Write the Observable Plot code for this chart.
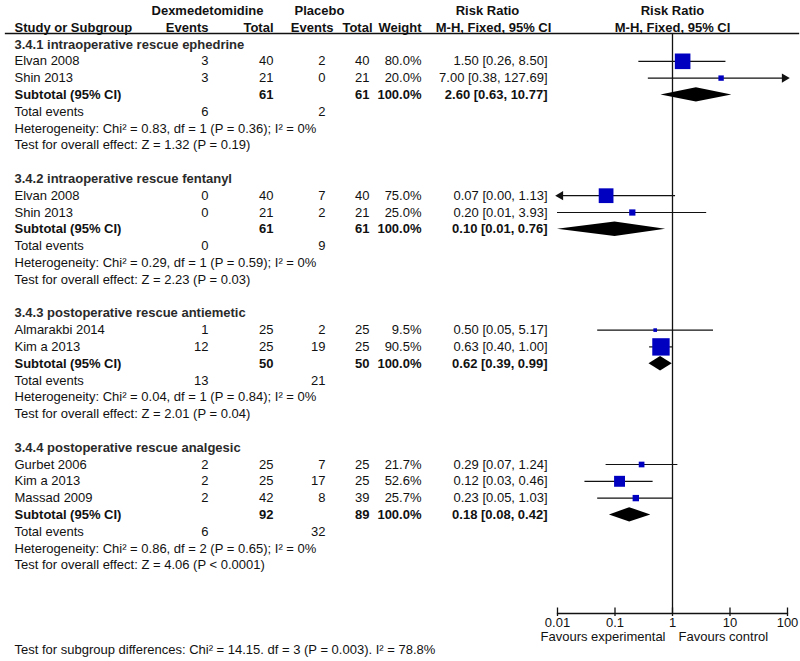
<!DOCTYPE html>
<html><head><meta charset="utf-8">
<script src="https://cdn.jsdelivr.net/npm/d3@7"></script>
<script src="https://cdn.jsdelivr.net/npm/@observablehq/plot@0.6"></script>
<style>
html,body{margin:0;padding:0;background:#fff;}
#chart{width:800px;height:661px;}
</style></head><body><div id="chart"></div>
<script>
// ---------- data ----------
const subgroupNames = [
  "3.4.1 intraoperative rescue ephedrine",
  "3.4.2 intraoperative rescue fentanyl",
  "3.4.3 postoperative rescue antiemetic",
  "3.4.4 postoperative rescue analgesic"
];
const studyGroup = [0, 0, 1, 1, 2, 2, 3, 3, 3];
const studyNames = ["Elvan 2008", "Shin 2013", "Elvan 2008", "Shin 2013", "Almarakbi 2014", "Kim a 2013", "Gurbet 2006", "Kim a 2013", "Massad 2009"];
const dexEvents = [3, 3, 0, 0, 1, 12, 2, 2, 2];
const dexTotals = [40, 21, 40, 21, 25, 25, 25, 25, 42];
const plcEvents = [2, 0, 7, 2, 2, 19, 7, 17, 8];
const plcTotals = [40, 21, 40, 21, 25, 25, 25, 25, 39];
const weights = [80.0, 20.0, 75.0, 25.0, 9.5, 90.5, 21.7, 52.6, 25.7];
const riskRatios = [1.50, 7.00, 0.07, 0.20, 0.50, 0.63, 0.29, 0.12, 0.23];
const ciLower = [0.26, 0.38, 0.00, 0.01, 0.05, 0.40, 0.07, 0.03, 0.05];
const ciUpper = [8.50, 127.69, 1.13, 3.93, 5.17, 1.00, 1.24, 0.46, 1.03];

const subDexTotals = [61, 61, 50, 92];
const subPlcTotals = [61, 61, 50, 89];
const subRR = [2.60, 0.10, 0.62, 0.18];
const subLower = [0.63, 0.01, 0.39, 0.08];
const subUpper = [10.77, 0.76, 0.99, 0.42];
const subDexEvents = [6, 0, 13, 6];
const subPlcEvents = [2, 9, 21, 32];
const hetChi2 = ["0.83", "0.29", "0.04", "0.86"];
const hetDf = [1, 1, 1, 2];
const hetP = ["0.36", "0.59", "0.84", "0.65"];
const hetI2 = ["0", "0", "0", "0"];
const overallZ = ["1.32", "2.23", "2.01", "4.06"];
const overallP = ["P = 0.19", "P = 0.03", "P = 0.04", "P < 0.0001"];

const headerTop = ["Dexmedetomidine", "Placebo", "Risk Ratio", "Risk Ratio"];
const headerBottom = ["Study or Subgroup", "Events", "Total", "Events", "Total", "Weight", "M-H, Fixed, 95% CI", "M-H, Fixed, 95% CI"];
const axisTicks = [0.01, 0.1, 1, 10, 100];
const favourLabels = ["Favours experimental", "Favours control"];
const subgroupTest = "Test for subgroup differences: Chi² = 14.15. df = 3 (P = 0.003). I² = 78.8%";

// ---------- layout ----------
const W = 800, H = 661;
const FONT = "'Liberation Sans', Arial, Helvetica, sans-serif";
const mLeft = 557, mRight = 13, mTop = 33, mBottom = 48;
const firstRowPx = 44, pitch = 16.8;
const toRow = px => (px - firstRowPx) / pitch;
const FS = 13;
const INK = "#111";
const BLUE = "#0000c0";
// column right edges / anchors (px)
const cName = 14, cDexEv = 208, cDexTot = 273, cPlcEv = 325, cPlcTot = 369, cWeight = 421, cCI = 547;

// build row-indexed records
let r = 0;
const sections = [], studies = [], subs = [], totals = [], hets = [], tests = [];
subgroupNames.forEach((name, g) => {
  sections.push({row: r, text: name}); r++;
  studyNames.forEach((s, i) => {
    if (studyGroup[i] !== g) return;
    studies.push({row: r, name: s, de: dexEvents[i], dt: dexTotals[i], pe: plcEvents[i], pt: plcTotals[i],
      w: weights[i], rr: riskRatios[i], lo: ciLower[i], hi: ciUpper[i]});
    r++;
  });
  subs.push({row: r, dt: subDexTotals[g], pt: subPlcTotals[g], rr: subRR[g], lo: subLower[g], hi: subUpper[g]}); r++;
  totals.push({row: r, de: subDexEvents[g], pe: subPlcEvents[g]}); r++;
  hets.push({row: r, text: `Heterogeneity: Chi² = ${hetChi2[g]}, df = ${hetDf[g]} (P = ${hetP[g]}); I² = ${hetI2[g]}%`}); r++;
  tests.push({row: r, text: `Test for overall effect: Z = ${overallZ[g]} (${overallP[g]})`}); r++;
  r++; // blank line
});

const xMin = axisTicks[0], xMax = axisTicks[axisTicks.length - 1];
const clampX = v => Math.min(xMax, Math.max(xMin, v));
const ciText = (rr, lo, hi) => `${rr.toFixed(2)} [${lo.toFixed(2)}, ${hi.toFixed(2)}]`;

const yTop = toRow(mTop), yBottom = toRow(H - mBottom);
const halfDiamond = 7.2 / pitch;
const diamondPts = subs.flatMap((s, k) => [
  {k, x: s.lo, y1: s.row, y2: s.row},
  {k, x: s.rr, y1: s.row - halfDiamond, y2: s.row + halfDiamond},
  {k, x: s.hi, y1: s.row, y2: s.row}
]);
const leftArrows = studies.filter(s => s.lo < xMin);
const rightArrows = studies.filter(s => s.hi > xMax);

// text column helper (pixel x of column, anchored in frame)
const col = (data, px, anchor, text, weight = "normal", extra = {}) =>
  Plot.text(data, {y: "row", text, frameAnchor: "left", dx: px - mLeft, textAnchor: anchor,
    fontWeight: weight, fontSize: FS, fill: INK, ...extra});

const hTop = [{row: -2}], hBot = [{row: -1}];

const chart = Plot.plot({
  width: W, height: H,
  marginLeft: mLeft, marginRight: mRight, marginTop: mTop, marginBottom: mBottom,
  style: {fontFamily: FONT, fontSize: FS + "px", background: "#fff", color: INK},
  x: {type: "log", domain: [xMin, xMax]},
  y: {domain: [yTop, yBottom], reverse: true, axis: null},
  r: {type: "linear", domain: [0, 100], range: [2 / Math.sqrt(Math.PI), 19 / Math.sqrt(Math.PI)]},
  marks: [
    // header
    col(hTop, 207, "middle", () => headerTop[0], "bold"),
    col(hTop, 319, "middle", () => headerTop[1], "bold"),
    col(hTop, 487, "middle", () => headerTop[2], "bold"),
    Plot.text(hTop, {x: 1, y: "row", text: () => headerTop[3], fontWeight: "bold", fontSize: FS, fill: INK}),
    col(hBot, cName, "start", () => headerBottom[0], "bold"),
    col(hBot, cDexEv, "end", () => headerBottom[1], "bold"),
    col(hBot, cDexTot, "end", () => headerBottom[2], "bold"),
    col(hBot, 333, "end", () => headerBottom[3], "bold"),
    col(hBot, 372, "end", () => headerBottom[4], "bold"),
    col(hBot, cWeight, "end", () => headerBottom[5], "bold"),
    col(hBot, 493, "middle", () => headerBottom[6], "bold"),
    Plot.text(hBot, {x: 1, y: "row", text: () => headerBottom[7], fontWeight: "bold", fontSize: FS, fill: INK}),
    Plot.frame({anchor: "top", insetLeft: -(mLeft - 5), insetRight: -(mRight - 2), stroke: INK, strokeWidth: 1.3}),
    // section headers
    col(sections, cName, "start", "text", "bold", {fill: "#2a2a2a"}),
    // study rows
    col(studies, cName, "start", "name"),
    col(studies, cDexEv, "end", "de"),
    col(studies, cDexTot, "end", "dt"),
    col(studies, cPlcEv, "end", "pe"),
    col(studies, cPlcTot, "end", "pt"),
    col(studies, cWeight, "end", d => d.w.toFixed(1) + "%"),
    col(studies, cCI, "end", d => ciText(d.rr, d.lo, d.hi)),
    // subtotal rows
    col(subs, cName, "start", () => "Subtotal (95% CI)", "bold"),
    col(subs, cDexTot, "end", "dt", "bold"),
    col(subs, cPlcTot, "end", "pt", "bold"),
    col(subs, cWeight, "end", () => "100.0%", "bold"),
    col(subs, cCI, "end", d => ciText(d.rr, d.lo, d.hi), "bold"),
    // totals, heterogeneity, tests
    col(totals, cName, "start", () => "Total events"),
    col(totals, cDexEv, "end", "de"),
    col(totals, cPlcEv, "end", "pe"),
    col(hets, cName, "start", "text"),
    col(tests, cName, "start", "text"),
    // forest
    Plot.ruleX([1], {stroke: INK, strokeWidth: 1.3}),
    Plot.ruleY(studies, {y: "row", x1: d => clampX(d.lo), x2: d => clampX(d.hi), stroke: INK, strokeWidth: 1.2}),
    Plot.dot(leftArrows, {x: () => xMin, y: "row", symbol: "triangle", rotate: -90, r: 3.4, dx: 3, fill: INK, stroke: null}),
    Plot.dot(rightArrows, {x: () => xMax, y: "row", symbol: "triangle", rotate: 90, r: 3.4, dx: -3, fill: INK, stroke: null}),
    Plot.dot(studies, {x: "rr", y: "row", r: "w", symbol: "square", fill: BLUE, stroke: null}),
    Plot.areaY(diamondPts, {x: "x", y1: "y1", y2: "y2", z: "k", fill: "#000", curve: "linear"}),
    // axis
    Plot.frame({anchor: "bottom", stroke: INK, strokeWidth: 1.3}),
    Plot.ruleX(axisTicks, {x: d => d, y1: yBottom - 5.5 / pitch, y2: yBottom + 3 / pitch, stroke: INK, strokeWidth: 1.3}),
    Plot.axisX(axisTicks, {tickSize: 0, tickPadding: 4, tickFormat: d => String(d), fontSize: FS, label: null, fill: INK}),
    Plot.text([favourLabels[0]], {x: 1, text: d => d, frameAnchor: "bottom", dy: 27, dx: -7, textAnchor: "end", fontSize: FS, fill: INK}),
    Plot.text([favourLabels[1]], {x: 1, text: d => d, frameAnchor: "bottom", dy: 27, dx: 6, textAnchor: "start", fontSize: FS, fill: INK}),
    Plot.text([subgroupTest], {text: d => d, frameAnchor: "bottom-left", dx: cName - mLeft, dy: 40, textAnchor: "start", fontSize: FS, fill: INK})
  ]
});
document.getElementById("chart").appendChild(chart);
</script>
</body></html>
